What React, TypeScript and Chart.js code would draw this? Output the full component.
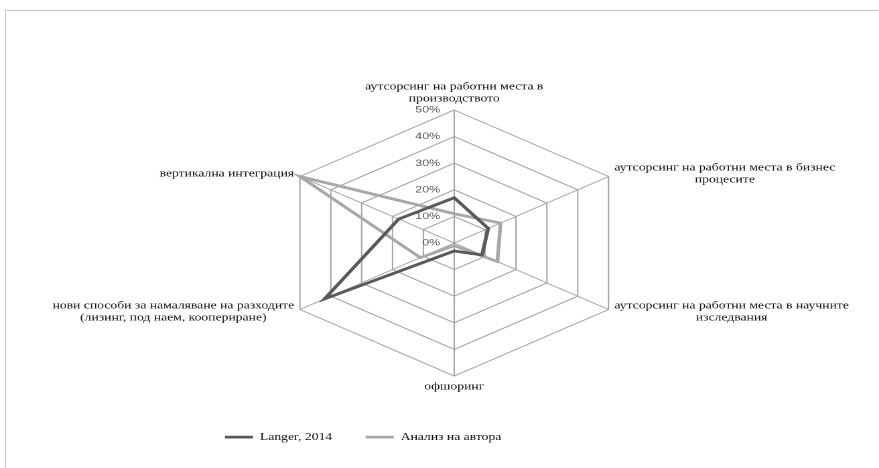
import React, { useEffect, useRef } from 'react';
import { Chart, registerables } from 'chart.js';

Chart.register(...registerables);

// ---- data ----
const CATEGORIES: (string | string[])[] = [
  ['аутсорсинг на работни места в', 'производството'],
  ['аутсорсинг на работни места в бизнес', 'процесите'],
  ['аутсорсинг на работни места в научните', 'изследвания'],
  'офшоринг',
  ['нови способи за намаляване на разходите', '(лизинг, под наем, коопериране)'],
  'вертикална интеграция',
];
const SERIES_NAMES = ['Langer, 2014', 'Анализ на автора'];
const LANGER = [17, 11, 9, 3, 42, 18];
const AUTHOR = [11, 15, 14, 1, 11, 50];
const TICK_MIN = 0;
const TICK_MAX = 50;
const TICK_STEP = 10;

// ---- layout (the original picture is stretched horizontally) ----
const PAGE_W = 879;
const PAGE_H = 468;
const INTERNAL_W = 656; // drawn narrower, then stretched to PAGE_W by CSS
const LEGEND_DX = -68;
const LEGEND_DY = 30;
const LABEL_GAP = 5;
const LABEL_LINE_H = 12;
const LABEL_FONT_SIZE = 10.2;

const SERIF = '"Liberation Serif", "Times New Roman", serif';

export default function App() {
  const ref = useRef<HTMLCanvasElement | null>(null);

  useEffect(() => {
    const canvas = ref.current;
    if (!canvas) return;

    // tick labels: right-aligned just left of the vertical axis, 0% included
    const tickLabels = {
      id: 'tickLabels',
      afterDraw(chart: any) {
        const s: any = chart.scales.r;
        const ctx = chart.ctx as CanvasRenderingContext2D;
        ctx.save();
        ctx.font = '9.3px "Liberation Sans", Arial, sans-serif';
        ctx.fillStyle = '#595959';
        ctx.textAlign = 'right';
        ctx.textBaseline = 'middle';
        s.ticks.forEach((t: any) => {
          const y = s.yCenter - s.getDistanceFromCenterForValue(t.value);
          ctx.fillText(`${t.value}%`, s.xCenter - 10.5, y);
        });
        ctx.restore();
      },
    };

    // category labels, placed from the scale's own point positions
    const categoryLabels = {
      id: 'categoryLabels',
      afterDraw(chart: any) {
        const s: any = chart.scales.r;
        const ctx = chart.ctx as CanvasRenderingContext2D;
        const labels = chart.data.labels as (string | string[])[];
        ctx.save();
        ctx.font = `${LABEL_FONT_SIZE}px ${SERIF}`;
        ctx.fillStyle = '#111111';
        ctx.textAlign = 'center';
        ctx.textBaseline = 'middle';
        labels.forEach((lab, i) => {
          const lines = Array.isArray(lab) ? lab : [lab];
          const p = s.getPointPosition(i, s.drawingArea + LABEL_GAP);
          const w = Math.max(...lines.map((l) => ctx.measureText(l).width));
          const h = lines.length * LABEL_LINE_H;
          const dx = p.x - s.xCenter;
          let cx: number;
          let top: number;
          if (Math.abs(dx) < 1) {
            cx = p.x;
            top = p.y < s.yCenter ? p.y - h : p.y;
          } else {
            cx = dx > 0 ? p.x + w / 2 : p.x - w / 2;
            top = p.y - h / 2;
          }
          lines.forEach((l, k) => ctx.fillText(l, cx, top + LABEL_LINE_H * (k + 0.5)));
        });
        ctx.restore();
      },
    };

    const legendShift = {
      id: 'legendShift',
      afterLayout(chart: any) {
        const lg = chart.legend;
        if (!lg) return;
        lg.left += LEGEND_DX;
        lg.right += LEGEND_DX;
        lg.top += LEGEND_DY;
        lg.bottom += LEGEND_DY;
      },
    };

    const chart = new Chart(canvas, {
      type: 'radar',
      data: {
        labels: CATEGORIES,
        datasets: [
          {
            label: SERIES_NAMES[0],
            data: LANGER,
            borderColor: '#595959',
            backgroundColor: '#595959',
            borderWidth: 2.8,
            fill: false,
            pointRadius: 0,
            pointHoverRadius: 0,
            clip: false as any,
          },
          {
            label: SERIES_NAMES[1],
            data: AUTHOR,
            borderColor: '#a8a8a8',
            backgroundColor: '#a8a8a8',
            borderWidth: 2.8,
            fill: false,
            pointRadius: 0,
            pointHoverRadius: 0,
            clip: false as any,
          },
        ],
      },
      options: {
        responsive: false,
        devicePixelRatio: 2,
        animation: false,
        layout: {
          padding: { top: 110, bottom: 45.8, left: 22, right: 0 },
        },
        scales: {
          r: {
            min: TICK_MIN,
            max: TICK_MAX,
            beginAtZero: true,
            ticks: { display: false, stepSize: TICK_STEP },
            grid: { color: '#a3a3a3', lineWidth: 1 },
            angleLines: { color: '#a3a3a3', lineWidth: 1 },
            pointLabels: { display: false },
          },
        },
        plugins: {
          legend: {
            position: 'bottom',
            labels: {
              usePointStyle: true,
              pointStyle: 'line',
              pointStyleWidth: 21,
              padding: 25,
              color: '#111111',
              font: { family: SERIF, size: 10.2 },
            },
          },
          tooltip: { enabled: false },
        },
      },
      plugins: [tickLabels, categoryLabels, legendShift],
    } as any);

    return () => chart.destroy();
  }, []);

  return (
    <div
      style={{
        position: 'fixed',
        left: 0,
        top: 0,
        width: PAGE_W,
        height: PAGE_H,
        overflow: 'hidden',
        background: '#ffffff',
      }}
    >
      <div
        style={{
          position: 'absolute',
          left: 5,
          top: 10,
          width: 920,
          height: 520,
          border: '1px solid #c6c6c6',
          boxSizing: 'border-box',
        }}
      />
      <canvas
        ref={ref}
        width={INTERNAL_W}
        height={PAGE_H}
        style={{ position: 'absolute', left: 0, top: 0, width: `${PAGE_W}px`, height: `${PAGE_H}px` }}
      />
    </div>
  );
}
